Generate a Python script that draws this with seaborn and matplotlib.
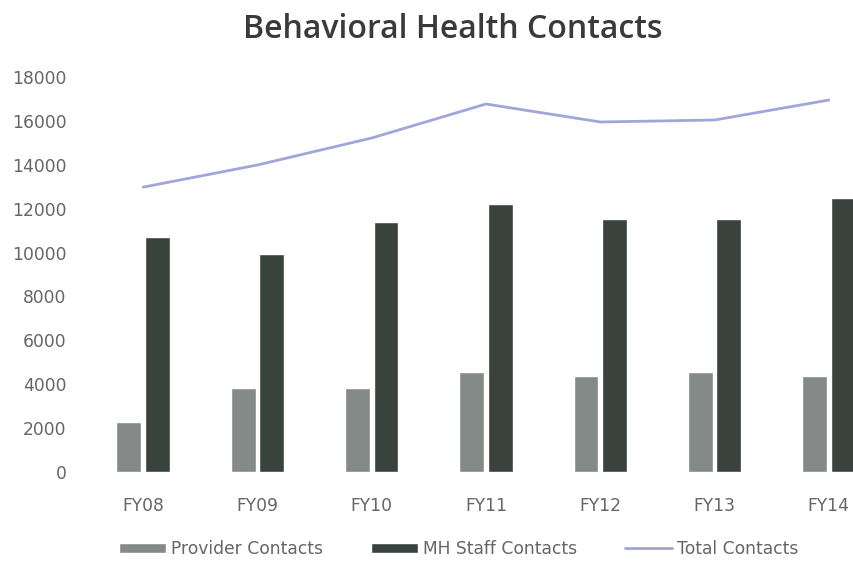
import matplotlib
matplotlib.use("Agg")
import matplotlib.pyplot as plt
import seaborn as sns
import pandas as pd
from matplotlib.patches import Patch
from matplotlib.lines import Line2D

years = ["FY08", "FY09", "FY10", "FY11", "FY12", "FY13", "FY14"]
provider = [2300, 3830, 3830, 4560, 4370, 4560, 4370]
mh_staff = [10700, 9930, 11390, 12210, 11530, 11530, 12480]
total = [12980, 13990, 15220, 16770, 15950, 16040, 16950]
yticks = [0, 2000, 4000, 6000, 8000, 10000, 12000, 14000, 16000, 18000]

sns.set_theme(style="white")
plt.rcParams['font.family'] = ['DejaVu Sans']

c_prov = "#848a87"
c_mh = "#39423c"
c_line = "#a0a6da"
txt = "#666666"

df = pd.DataFrame({
    "Year": years * 2,
    "Value": provider + mh_staff,
    "Series": ["Provider Contacts"] * len(years) + ["MH Staff Contacts"] * len(years),
})

fig = plt.figure(figsize=(8.54, 5.62), dpi=100)
ax = fig.add_axes([86 / 854, 1 - 472 / 562, 800 / 854, (472 - 77) / 562])

sns.barplot(data=df, x="Year", y="Value", hue="Series", order=years,
            hue_order=["Provider Contacts", "MH Staff Contacts"],
            palette=[c_prov, c_mh], width=0.5, gap=0.13, saturation=1,
            legend=False, ax=ax)
sns.lineplot(x=list(range(len(years))), y=total, color=c_line, linewidth=2.0,
             ax=ax, legend=False)

ax.set_xlim(-0.5, len(years) - 0.5)
ax.set_ylim(0, 18000)
ax.set_yticks(yticks)
ax.set_yticklabels([str(v) for v in yticks])
ax.set_xlabel("")
ax.set_ylabel("")
for s in ax.spines.values():
    s.set_visible(False)
ax.tick_params(axis="y", length=0, pad=14, labelsize=12.3, labelcolor=txt)
ax.tick_params(axis="x", length=0, pad=18, labelsize=12.3, labelcolor=txt)
ax.grid(False)

fig.text(453 / 854, 1 - 38 / 562, "Behavioral Health Contacts", ha="center",
         va="baseline", fontsize=23, fontweight=600, color="#3a3a3a",
         family=["Open Sans", "DejaVu Sans"])

handles = [Patch(facecolor=c_prov), Patch(facecolor=c_mh),
           Line2D([0], [0], color=c_line, linewidth=2)]
labels = ["Provider Contacts", "MH Staff Contacts", "Total Contacts"]
leg = fig.legend(handles, labels, loc="center", bbox_to_anchor=(459 / 854, 1 - 549 / 562),
                 ncol=3, frameon=False, fontsize=12.3, handlelength=2.75,
                 handleheight=0.55, columnspacing=2.8, handletextpad=0.3)
for t in leg.get_texts():
    t.set_color(txt)

fig.savefig("out.png", dpi=100)
